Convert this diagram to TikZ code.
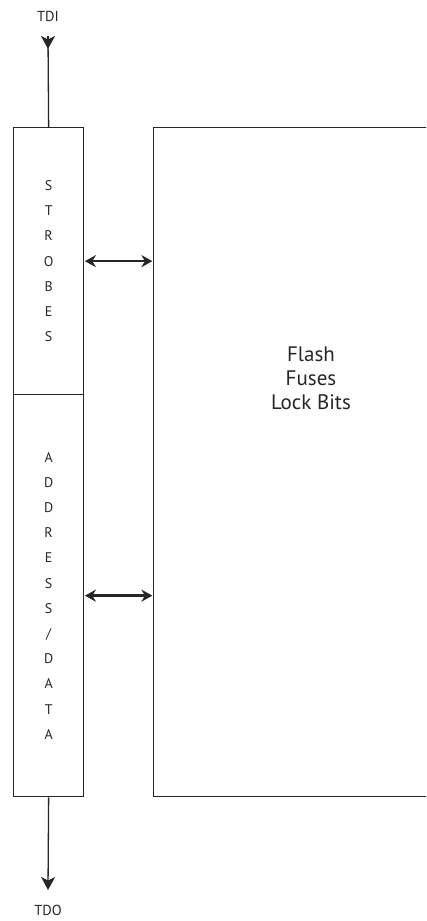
\documentclass[tikz,border=0pt]{standalone}
\usepackage{fontspec}
\setmainfont{PT Sans}
\usetikzlibrary{arrows.meta}
\begin{document}
\begin{tikzpicture}[x=1pt,y=-1pt,
  box/.style={draw=black!85, line width=1.3pt, inner sep=0pt, anchor=north west},
  vlabel/.style={align=center, font=\fontsize{14}{25.2}\selectfont, text=black!85},
  sig/.style={font=\fontsize{14.5}{16}\selectfont, text=black!85},
  wire/.style={draw=black!85, line width=1.3pt},
  dbl/.style={draw=black!85, line width=2.6pt, {Stealth[length=11pt,width=12pt]}-{Stealth[length=11pt,width=12pt]}, shorten <=0.6pt, shorten >=0.6pt}]
\useasboundingbox (0,0) rectangle (426,921);
\begin{scope}
\clip (0,0) rectangle (426,921);
\node[box, minimum width=70pt, minimum height=267pt] (strobes) at (13,127) {};
\node[box, minimum width=70pt, minimum height=402pt] (addr) at (13,394) {};
\node[box, minimum width=300pt, minimum height=669pt] (flash) at (153,127) {};
\end{scope}
\node[vlabel] (strobestxt) at (strobes.center) {S\\T\\R\\O\\B\\E\\S};
\node[vlabel] (addrtxt) at (addr.center) {A\\D\\D\\R\\E\\S\\S\\/\\D\\A\\T\\A};
\node[align=center, font=\fontsize{21}{24}\selectfont, text=black!85] (flashtxt) at (311,378) {Flash\\Fuses\\Lock Bits};
\node[sig] (tdi) at (48,16) {TDI};
\node[sig] (tdo) at (48,910) {TDO};
\coordinate (tdiend) at (48,36);
\coordinate (tdotip) at (48,890);
\draw[wire] (strobes.north) -- (tdiend);
\draw[wire, -{Stealth[length=13pt,width=14pt,inset=3.5pt]}] (tdiend) -- ++(0,13);
\draw[wire, -{Stealth[length=13pt,width=14pt,inset=3.5pt]}] (addr.south) -- (tdotip);
\draw[dbl] (strobes.east) -- (strobes.east -| flash.west);
\draw[dbl] (addr.east) -- (addr.east -| flash.west);
\end{tikzpicture}
\end{document}
